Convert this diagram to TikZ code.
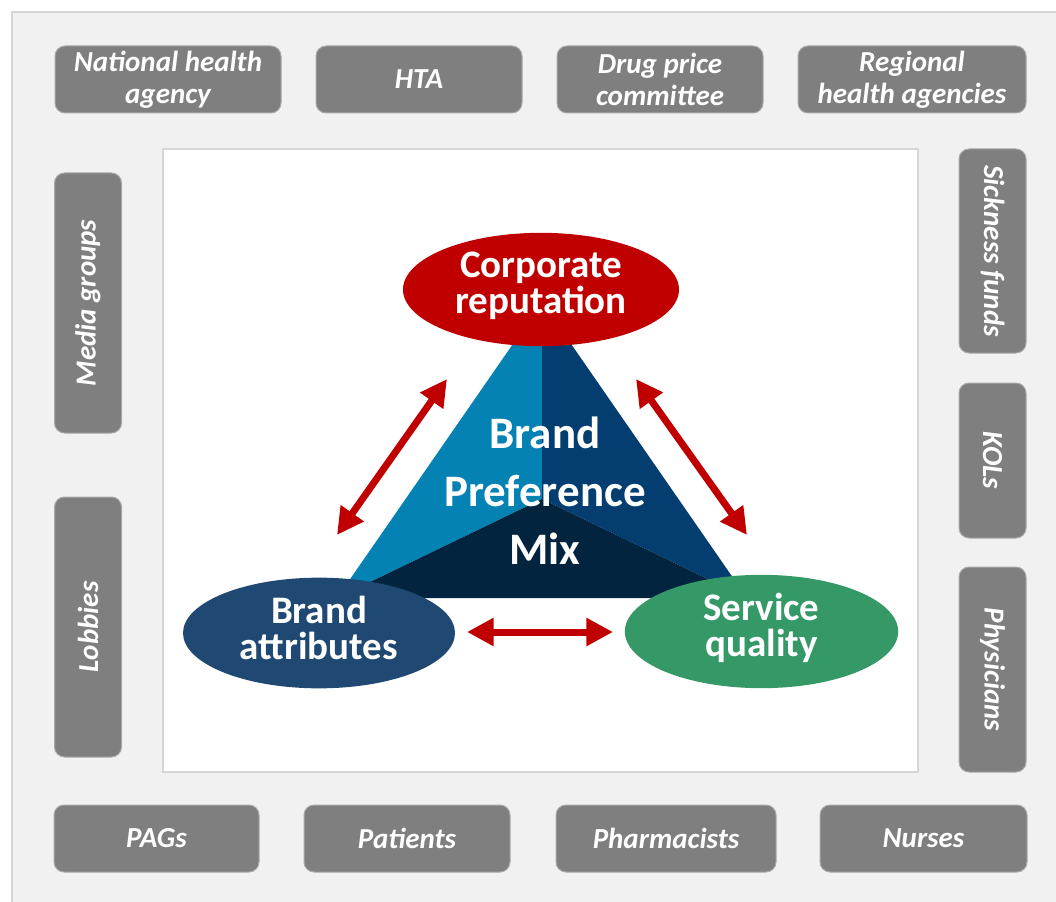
\documentclass[tikz,border=0pt]{standalone}
\usepackage{fontspec}
\setmainfont{Carlito}
\usetikzlibrary{shapes.geometric,arrows.meta}
\definecolor{boxgray}{RGB}{127,127,127}
\definecolor{boxedge}{RGB}{170,170,170}
\definecolor{panelfill}{RGB}{241,241,241}
\definecolor{paneledge}{RGB}{214,214,214}
\definecolor{corpred}{RGB}{192,0,0}
\definecolor{triA}{RGB}{5,130,180}
\definecolor{triB}{RGB}{4,62,112}
\definecolor{triC}{RGB}{2,36,62}
\definecolor{attrblue}{RGB}{31,73,115}
\definecolor{servgreen}{RGB}{52,153,102}
\begin{document}
\begin{tikzpicture}[x=0.75pt,y=-0.75pt,
  gbox/.style={draw=boxedge, line width=0.75pt, fill=boxgray, rounded corners=7.5pt,
    text=white, font=\fontsize{21.75}{24}\selectfont\bfseries\itshape, align=center,
    inner sep=0pt, minimum height=50.25pt},
  elltext/.style={text=white, inner sep=0pt,
    font=\fontsize{29.25}{27}\selectfont\bfseries, align=center},
  dblarrow/.style={corpred, line width=5.25pt,
    {Triangle[length=20pt,width=20pt]}-{Triangle[length=20pt,width=20pt]}}
]
\useasboundingbox (0,0) rectangle (1056,902);
% outer panel
\draw[fill=panelfill, draw=paneledge, line width=1.5pt] (12,12) rectangle (1070,915);
% inner white area
\draw[fill=white, draw=paneledge, line width=1.2pt] (163,149) rectangle (918,772);
% triangle
\coordinate (apex) at (542,302);
\coordinate (bl) at (337,598);
\coordinate (br) at (747,598);
\coordinate (cen) at (542,499);
\fill[triA] (apex) -- (cen) -- (bl) -- cycle;
\fill[triB] (apex) -- (cen) -- (br) -- cycle;
\fill[triC] (bl) -- (cen) -- (br) -- cycle;
\node[text=white, font=\fontsize{33.75}{43.5}\selectfont\bfseries, align=center] (mix) at (545,491) {Brand\\Preference\\Mix};
% ellipses
\fill[corpred] (541,289.5) ellipse [x radius=103.5pt, y radius=42.5pt];
\fill[attrblue] (319,633) ellipse [x radius=102pt, y radius=41.5pt];
\fill[servgreen] (761.5,631.5) ellipse [x radius=102.5pt, y radius=42.5pt];
\node[elltext] (corp) at (541,286) {Corporate\\reputation};
\node[elltext] (attr) at (319,628) {Brand\\attributes};
\node[elltext] (serv) at (761.5,627.5) {Service\\quality};
% arrows
\coordinate (l1) at (337,535);
\coordinate (l2) at (447,379);
\coordinate (r1) at (636,379);
\coordinate (r2) at (747,535);
\coordinate (b1) at (467,632);
\coordinate (b2) at (613,632);
\draw[dblarrow] (l1) -- (l2);
\draw[dblarrow] (r1) -- (r2);
\draw[dblarrow] (b1) -- (b2);
% top boxes
\node[gbox, minimum width=169.5pt] (nha) at (168,79.5) {National health\\agency};
\node[gbox, minimum width=154.5pt] (hta) at (419,79.5) {HTA};
\node[gbox, minimum width=154.5pt] (dpc) at (660,79.5) {Drug price\\committee};
\node[gbox, minimum width=171pt] (rha) at (912,79.5) {Regional\\health agencies};
% bottom boxes
\node[gbox, minimum width=153.75pt] (pags) at (156.5,838.5) {PAGs};
\node[gbox, minimum width=154.5pt] (pat) at (407,838.5) {Patients};
\node[gbox, minimum width=165pt] (pha) at (666,838.5) {Pharmacists};
\node[gbox, minimum width=155.25pt] (nur) at (923.5,838.5) {Nurses};
% left boxes
\node[gbox, rotate=90, minimum width=195pt] (med) at (88,303) {Media groups};
\node[gbox, rotate=90, minimum width=195pt] (lob) at (88,627) {Lobbies};
% right boxes
\node[gbox, rotate=-90, minimum width=153pt] (sick) at (992.5,251) {Sickness funds};
\node[gbox, rotate=-90, minimum width=116.25pt] (kol) at (992.5,460.5) {KOLs};
\node[gbox, rotate=-90, minimum width=153.75pt] (phy) at (992.5,669.5) {Physicians};
\end{tikzpicture}
\end{document}
